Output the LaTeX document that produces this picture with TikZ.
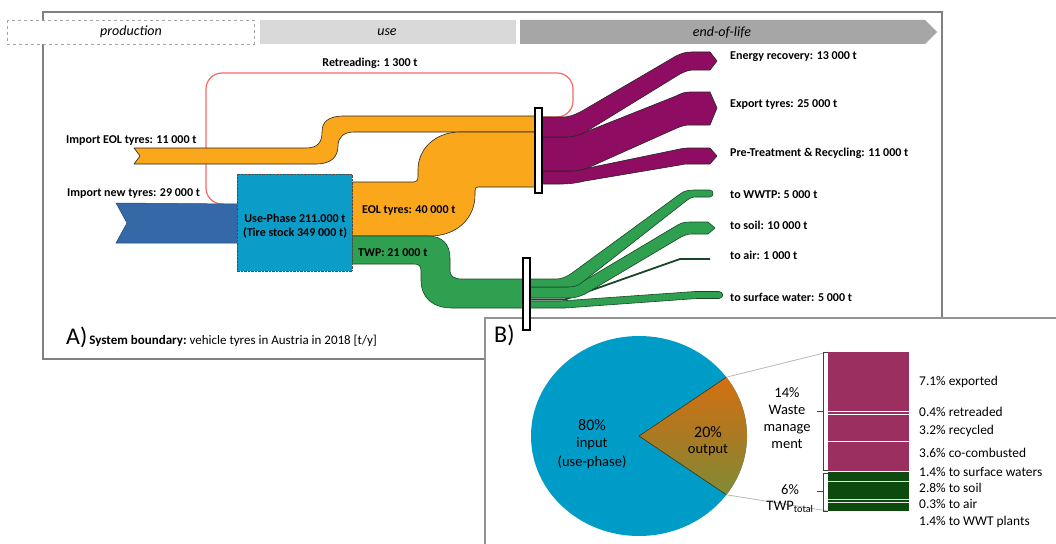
\documentclass[tikz,border=0pt]{standalone}
\usepackage{fontspec}
\setmainfont{Carlito}
\definecolor{orng}{RGB}{250,167,27}
\definecolor{purp}{RGB}{142,13,98}
\definecolor{grn}{RGB}{46,160,80}
\definecolor{grnline}{RGB}{25,70,38}
\definecolor{impblue}{RGB}{52,104,166}
\definecolor{useblue}{RGB}{12,156,200}
\definecolor{pieblue}{RGB}{0,156,200}
\definecolor{barpurp}{RGB}{155,48,96}
\definecolor{bargrn}{RGB}{12,74,14}
\definecolor{hdruse}{RGB}{217,217,217}
\definecolor{hdreol}{RGB}{166,166,166}
\definecolor{retred}{RGB}{248,105,100}
\definecolor{framegray}{RGB}{128,128,128}
\definecolor{wedgetop}{RGB}{228,108,10}
\definecolor{wedgemid}{RGB}{170,122,35}
\definecolor{wedgebot}{RGB}{112,145,60}
\begin{document}
\begin{tikzpicture}[x=1pt,y=-1pt,
  flow/.style={line width=0.6pt, draw=black!85, line join=round},
  gflow/.style={line width=0.6pt, draw=grnline, fill=grn, line join=round},
  lbl/.style={font=\fontsize{12}{14}\selectfont\bfseries, anchor=west, inner sep=0pt},
  hdr/.style={font=\fontsize{14}{16}\selectfont\itshape, inner sep=0pt},
  pct/.style={font=\fontsize{13.4}{15}\selectfont, anchor=west, inner sep=0pt},
  barbox/.style={fill=white, draw=black, line width=1.2pt}]
\useasboundingbox (0,0) rectangle (1056,543);
% frame A
\draw[framegray, line width=2pt] (43,12) rectangle (942,359);
% headers
\draw[gray!70, dashed, fill=white] (7,20) rectangle (254,44);
\node[hdr] (hprod) at (131,32) {production};
\fill[hdruse] (260,20) rectangle (516,44);
\node[hdr] (huse) at (387,32) {use};
\fill[hdreol] (520,20) -- (925,20) -- (937,32) -- (925,44) -- (520,44) -- cycle;
\node[hdr] (heol) at (722,32) {end-of-life};
% panel B box
\fill[white] (485,318) rectangle (1060,548);
\draw[framegray!85, line width=2pt] (1060,318) -- (485,318) -- (485,548);
% A label
\node[anchor=west, inner sep=0pt] (sysb) at (66,337) {{\fontsize{24}{26}\selectfont A)}\hspace{2pt}{\fontsize{13}{15}\selectfont\bfseries System boundary:} {\fontsize{13}{15}\selectfont vehicle tyres in Austria in 2018 [t/y]}};
% retreading loop
\draw[retred, line width=1.2pt, rounded corners=16pt] (224,204) -- (206,204) -- (206,73) -- (573,73) -- (573,117) -- (541,117);
\node[lbl, anchor=center] (retl) at (370,63) {Retreading: 1 300 t};
% import EOL
\filldraw[flow, fill=orng] (134,148) -- (306,148) .. controls (318,148) and (322,142) .. (322,132) .. controls (322,122) and (328,116) .. (344,116) -- (536,116) -- (536,132) -- (354,132) .. controls (343,132) and (338,138) .. (338,146) .. controls (338,157) and (331,164) .. (316,164) -- (134,164) -- (140,156) -- cycle;
% EOL tyres
\filldraw[flow, fill=orng] (352,182) -- (414,182) .. controls (417,182) and (418,180) .. (418,176) -- (418,170) .. controls (418,148) and (436,132) .. (460,132) -- (536,132) -- (536,187) -- (478,187) .. controls (476,187) and (475,188) .. (475,191) -- (475,195) .. controls (475,219) and (456,236) .. (430,236) -- (352,236) -- cycle;
% TWP
\filldraw[gflow] (352,236) -- (428,236) .. controls (442,236) and (450,244) .. (450,258) -- (450,271) .. controls (450,276) and (454,279) .. (462,279) -- (524,279) -- (524,308) -- (452,308) .. controls (433,308) and (421,298) .. (421,280) -- (421,271) .. controls (421,266) and (419,264) .. (414,264) -- (352,264) -- cycle;
% import new tyres
\filldraw[line width=0.5pt, fill=impblue, draw=impblue!70!black] (116,203) -- (238,204) -- (238,243) -- (116,243) -- (127,223) -- cycle;
% use phase
\filldraw[fill=useblue, draw=black!70, densely dotted] (237,174) rectangle (352,271);
\node[lbl, anchor=center, align=center, font=\fontsize{12}{14}\selectfont\bfseries] (usetxt) at (295,226) {Use-Phase 211.000 t\\(Tire stock 349 000 t)};
% labels left
\node[lbl] (impeol) at (66,141) {Import EOL tyres: 11 000 t};
\node[lbl] (impnew) at (67,194) {Import new tyres: 29 000 t};
\node[lbl] (eoll) at (362,211) {EOL tyres: 40 000 t};
\node[lbl] (twpl) at (358,253) {TWP: 21 000 t};
% purple flows
\filldraw[flow, fill=purp] (541,171) -- (566,171) .. controls (574,171) and (580,170) .. (588,168) -- (680,149) .. controls (684,148) and (686,148) .. (690,148) -- (710,148) -- (717,156) -- (710,164) -- (690,164) .. controls (686,164) and (684,164) .. (680,165) -- (585,181) .. controls (576,183) and (570,184) .. (560,184) -- (541,184) -- cycle;
\filldraw[flow, fill=purp] (541,137) -- (566,137) .. controls (574,137) and (580,135) .. (588,131) -- (676,96) .. controls (682,93) and (685,92) .. (690,92) -- (710,92) -- (717,108) -- (710,125) -- (690,125) .. controls (685,125) and (682,126) .. (677,128) -- (592,166) .. controls (584,170) and (578,171) .. (570,171) -- (541,171) -- cycle;
\filldraw[flow, fill=purp] (541,117) -- (562,117) .. controls (570,117) and (574,115) .. (582,111) -- (676,56) .. controls (682,53) and (686,52) .. (692,52) -- (710,52) -- (717,61) -- (710,70) -- (695,70) .. controls (689,70) and (686,71) .. (680,74) -- (592,128) .. controls (582,134) and (576,137) .. (566,137) -- (541,137) -- cycle;
\filldraw[barbox] (535,108) rectangle (542,193);
% green flows
\filldraw[gflow] (529,301) -- (560,301) -- (695,291.5) -- (719,291.5) .. controls (724,291.5) and (724,298.5) .. (719,298.5) -- (697,298.5) -- (565,308) -- (529,308) -- cycle;
\draw[grnline, line width=1.8pt] (529,299.5) -- (565,299.5) -- (680,259) -- (710,259);
\filldraw[gflow] (529,287) -- (566,287) .. controls (572,287) and (576,285) .. (582,282) -- (676,226) .. controls (681,223) and (684,222) .. (690,222) -- (708,222) -- (715,228) -- (708,234) -- (692,234) .. controls (688,234) and (685,235) .. (681,237) -- (585,294) .. controls (578,297) and (575,298) .. (568,298) -- (529,298) -- cycle;
\filldraw[gflow] (529,279) -- (556,279) .. controls (562,279) and (566,277) .. (572,273) -- (680,194) .. controls (684,191) and (688,190) .. (694,190) -- (710,190) .. controls (714,190) and (714,197) .. (710,197) -- (696,197) .. controls (692,197) and (690,198) .. (686,201) -- (580,284) .. controls (576,286) and (574,287) .. (568,287) -- (529,287) -- cycle;
\filldraw[barbox] (523,258) rectangle (530,330);
% right labels
\node[lbl] (ener) at (730,57) {Energy recovery: 13 000 t};
\node[lbl] (expo) at (730,105) {Export tyres: 25 000 t};
\node[lbl] (pret) at (730,153) {Pre-Treatment \& Recycling: 11 000 t};
\node[lbl] (wwtp) at (730,195) {to WWTP: 5 000 t};
\node[lbl] (soil) at (730,225) {to soil: 10 000 t};
\node[lbl] (air) at (730,255) {to air: 1 000 t};
\node[lbl] (surf) at (730,297) {to surface water: 5 000 t};
% panel B
\node[anchor=west, inner sep=0pt, font=\fontsize{24}{26}\selectfont] (blab) at (494,335) {B)};
\fill[pieblue] (639,436) ellipse [x radius=108, y radius=100];
\begin{scope}
\clip (639,436) ellipse [x radius=108, y radius=100];
\shade[top color=wedgetop, bottom color=wedgebot, middle color=wedgemid] (639,436) -- (760,354.6) -- (760,517.4) -- cycle;
\end{scope}
\draw[black!60!wedgemid, line width=0.6pt] (726.4,377.2) -- (639,436) -- (726.4,494.8);
\node[inner sep=0pt, font=\fontsize{16}{18}\selectfont] (p80) at (592,425) {80\%};
\node[inner sep=0pt, font=\fontsize{14.5}{17}\selectfont] (inp) at (592,444) {input};
\node[inner sep=0pt, font=\fontsize{14.5}{17}\selectfont] (usep) at (592,462) {(use-phase)};
\node[inner sep=0pt, font=\fontsize{16}{18}\selectfont] (p20) at (708,432) {20\%};
\node[inner sep=0pt, font=\fontsize{14.5}{17}\selectfont] (outp) at (708,450) {output};
\draw[gray!55, line width=0.8pt] (726.4,377.2) -- (828,352);
\draw[gray!55, line width=0.8pt] (726.4,494.8) -- (828,511);
% stacked bar
\fill[barpurp] (828,352) rectangle (909,471);
\fill[bargrn] (828,472) rectangle (909,511);
\draw[white, line width=0.8pt] (828,411) -- (909,411) (828,414) -- (909,414) (828,441) -- (909,441);
\draw[white!80!gray, line width=0.8pt] (828,481) -- (909,481) (828,499) -- (909,499) (828,502) -- (909,502);
% brackets
\draw[black!75, line width=0.8pt] (828,352) -- (823,352) -- (823,470) -- (828,470) (823,411) -- (817,411);
\draw[black!75, line width=0.8pt] (828,473) -- (823,473) -- (823,511) -- (828,511) (823,491) -- (817,491);
\node[align=center, inner sep=0pt, font=\fontsize{14.5}{17}\selectfont] (wm) at (787,418) {14\%\\Waste\\manage\\ment};
\node[align=center, inner sep=0pt, font=\fontsize{14.5}{16}\selectfont] (twpt) at (790,499) {6\%\\TWP\textsubscript{total}};
\node[pct] (p1) at (919,382) {7.1\% exported};
\node[pct] (p2) at (919,412) {0.4\% retreaded};
\node[pct] (p3) at (919,431) {3.2\% recycled};
\node[pct] (p4) at (919,453) {3.6\% co-combusted};
\node[pct] (p5) at (919,472) {1.4\% to surface waters};
\node[pct] (p6) at (919,488) {2.8\% to soil};
\node[pct] (p7) at (919,504) {0.3\% to air};
\node[pct] (p8) at (919,522) {1.4\% to WWT plants};
\end{tikzpicture}
\end{document}
